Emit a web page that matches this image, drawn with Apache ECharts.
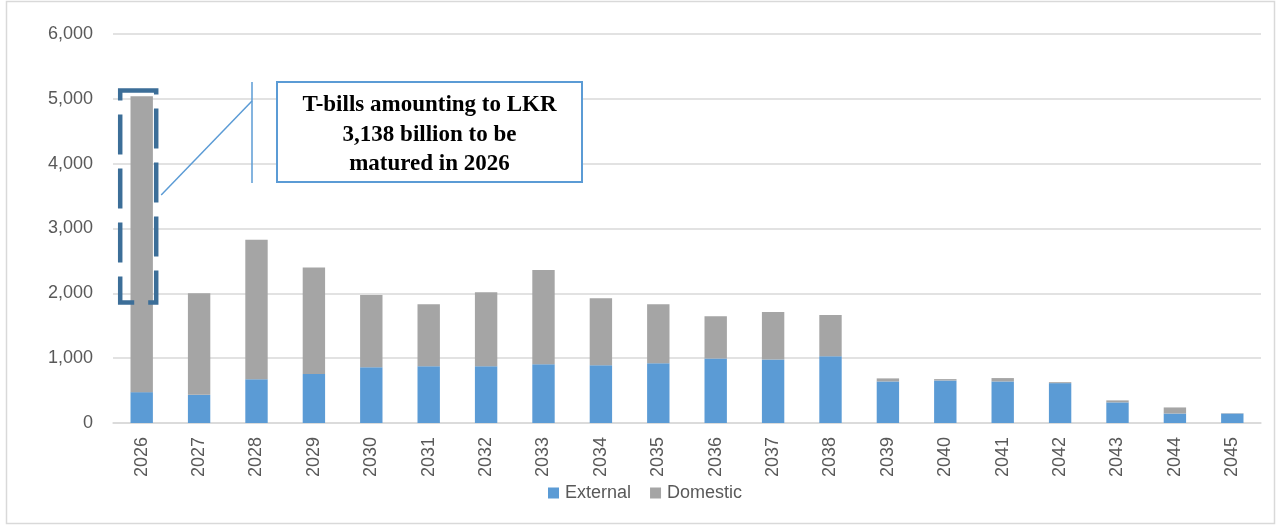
<!DOCTYPE html>
<html>
<head>
<meta charset="utf-8">
<script src="https://cdn.jsdelivr.net/npm/echarts@6/dist/echarts.min.js"></script>
<style>
html,body{margin:0;padding:0;background:#fff;}
#chart{width:1279px;height:526px;}
</style>
</head>
<body>
<div id="chart"></div>
<script>
const years = ['2026','2027','2028','2029','2030','2031','2032','2033','2034','2035','2036','2037','2038','2039','2040','2041','2042','2043','2044','2045'];
const external = [476, 435, 673, 755, 859, 874, 874, 905, 890, 922, 995, 979, 1031, 641, 656, 641, 615, 318, 146, 146];
const domestic = [4563, 1567, 2152, 1645, 1117, 957, 1144, 1454, 1034, 911, 651, 735, 636, 47, 21, 52, 15, 31, 94, 5];
const yTicks = [0, 1000, 2000, 3000, 4000, 5000, 6000];
const noteLines = ['T-bills amounting to LKR', '3,138 billion to be', 'matured in 2026'];

const chart = echarts.init(document.getElementById('chart'));
const labelFont = 'Liberation Sans, Arial, sans-serif';
chart.setOption({
  animation: false,
  grid: {left: 113, right: 18, top: 34, bottom: 103},
  legend: {
    data: ['External', 'Domestic'],
    left: 548, top: 484, padding: 0,
    itemWidth: 11, itemHeight: 11, itemGap: 19,
    icon: 'rect',
    textStyle: {fontFamily: labelFont, fontSize: 18, color: '#595959', padding: [0,0,0,1]}
  },
  xAxis: {
    type: 'category',
    data: years,
    axisLine: {lineStyle: {color: '#D9D9D9', width: 1.5}},
    axisTick: {show: false},
    axisLabel: {rotate: 90, margin: 14, fontFamily: labelFont, fontSize: 18, color: '#595959'}
  },
  yAxis: {
    type: 'value',
    min: yTicks[0], max: yTicks[yTicks.length-1], interval: 1000,
    axisLine: {show: false},
    axisTick: {show: false},
    splitLine: {lineStyle: {color: '#D9D9D9', width: 1.5}},
    axisLabel: {
      margin: 20, fontFamily: labelFont, fontSize: 18, color: '#595959',
      formatter: v => v.toLocaleString('en-US')
    }
  },
  series: [
    {name: 'External', type: 'bar', stack: 'total', data: external, barWidth: '39%', itemStyle: {color: '#5B9BD5'}},
    {name: 'Domestic', type: 'bar', stack: 'total', data: domestic, barWidth: '39%', itemStyle: {color: '#A5A5A5'}}
  ]
});

// annotation positioned from the axes
const cx = chart.convertToPixel({xAxisIndex: 0}, years[0]);
const yTop = chart.convertToPixel({yAxisIndex: 0}, 5130);
const yBot = chart.convertToPixel({yAxisIndex: 0}, 1860);
const rx = cx - 21.5, rw = 36;

chart.setOption({
  graphic: [
    {type: 'rect', shape: {x: 6.5, y: 1.5, width: 1268, height: 522}, style: {fill: 'none', stroke: '#D9D9D9', lineWidth: 1.5}, silent: true, z: 0},
    {type: 'rect', shape: {x: rx, y: yTop, width: rw, height: yBot - yTop},
      style: {fill: 'none', stroke: '#3C6E98', lineWidth: 4.5, lineDash: [40, 14]}, z: 10},
    {type: 'line', shape: {x1: cx + 19.5, y1: 195, x2: 252, y2: 101}, style: {stroke: '#5B9BD5', lineWidth: 1.5}, z: 10},
    {type: 'line', shape: {x1: 252, y1: 82, x2: 252, y2: 183}, style: {stroke: '#5B9BD5', lineWidth: 1.5}, z: 10},
    {type: 'rect', shape: {x: 277, y: 82, width: 305, height: 100}, style: {fill: '#fff', stroke: '#5B9BD5', lineWidth: 2}, z: 10},
    {type: 'text', x: 429.5, y: 135, z: 11,
      style: {text: noteLines.join('\n'), font: 'bold 23px "Liberation Serif", serif', fill: '#000', align: 'center', verticalAlign: 'middle', lineHeight: 29.5}}
  ]
});
</script>
</body>
</html>
